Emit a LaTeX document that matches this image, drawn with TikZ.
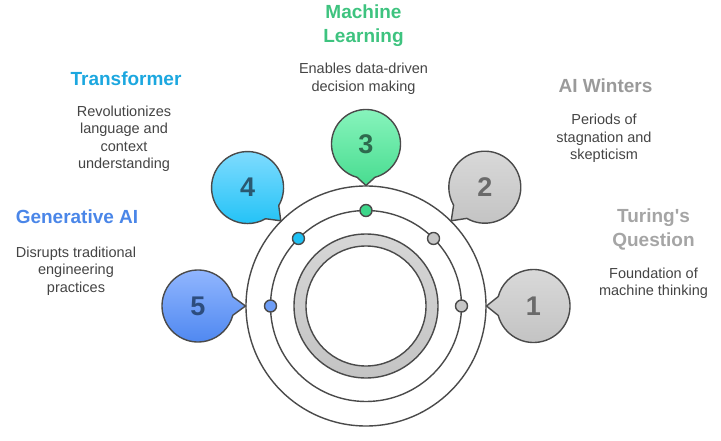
\documentclass[tikz,border=0pt]{standalone}
\usepackage{fontspec}
\setmainfont{Liberation Sans}
\definecolor{ringline}{HTML}{4A4A4A}
\definecolor{ringtop}{HTML}{D6D6D6}
\definecolor{ringbot}{HTML}{C4C4C4}
\definecolor{graytop}{HTML}{DADADA}
\definecolor{graybot}{HTML}{C2C2C2}
\definecolor{graynum}{HTML}{6A6A6A}
\definecolor{greentop}{HTML}{8AF5BE}
\definecolor{greenbot}{HTML}{48DC90}
\definecolor{greennum}{HTML}{2E6A4E}
\definecolor{cyantop}{HTML}{85DDFF}
\definecolor{cyanbot}{HTML}{22C2F6}
\definecolor{cyannum}{HTML}{2A5870}
\definecolor{bluetop}{HTML}{94B8FF}
\definecolor{bluebot}{HTML}{4C86F0}
\definecolor{bluenum}{HTML}{2D4D7E}
\definecolor{mlgreen}{HTML}{3EC37F}
\definecolor{trcyan}{HTML}{1CA7DF}
\definecolor{genblue}{HTML}{4A86E8}
\definecolor{wintergray}{HTML}{9A9A9A}
\definecolor{turinggray}{HTML}{A5A5A5}
\definecolor{dotgray}{HTML}{C6C6C6}
\definecolor{dotgreen}{HTML}{3DD68A}
\definecolor{dotcyan}{HTML}{1EC1F4}
\definecolor{dotblue}{HTML}{6D9DF6}
\definecolor{bodytext}{HTML}{444444}
\tikzset{
  title/.style={font=\fontsize{19}{24}\selectfont\bfseries, align=center, inner sep=0pt},
  body/.style={font=\fontsize{14.5}{17.5}\selectfont, align=center, inner sep=0pt, text=bodytext},
  dot/.style={circle, draw=ringline, line width=1.4pt, minimum size=12pt, inner sep=0pt},
  numtext/.style={font=\fontsize{27}{27}\selectfont\bfseries, inner sep=0pt}
}

\begin{document}
\begin{tikzpicture}[x=1pt, y=1pt, line width=1.4pt]
\useasboundingbox (0,0) rectangle (721,440);
\coordinate (hub) at (366,134);
% rings
\draw[ringline] (hub) circle (120);
\draw[ringline] (hub) circle (95.5);
\path[draw=ringline, top color=ringtop, bottom color=ringbot] (hub) circle (72);
\draw[ringline, fill=white] (hub) circle (60);
% speech balloons
\foreach \i/\a/\d/\r/\tc/\bc/\nc in {1/0/167.5/36.5/graytop/graybot/graynum,
    2/45/168/36/graytop/graybot/graynum,
    3/90/162/34.5/greentop/greenbot/greennum,
    4/135/167.5/36/cyantop/cyanbot/cyannum,
    5/180/168/36/bluetop/bluebot/bluenum}{
  \coordinate (tip\i) at ([shift={(\a:120.5)}]hub);
  \coordinate (c\i) at ([shift={(\a:\d)}]hub);
  \path[draw=ringline, top color=\tc, bottom color=\bc]
    ([shift={(\a+165:\r)}]c\i) -- (tip\i) -- ([shift={(\a+195:\r)}]c\i)
    arc[start angle=\a+195, end angle=\a+525, radius=\r] -- cycle;
  \node[numtext, text=\nc] (num\i) at (c\i) {\i};
}
% dots on the middle ring
\foreach \ang/\col [count=\j] in {0/dotgray, 45/dotgray, 90/dotgreen, 135/dotcyan, 180/dotblue}
  \node[dot, fill=\col] (dot\j) at ([shift={(\ang:95.5)}]hub) {};
% labels
\node[title, text=mlgreen] (mltitle) at (363.5,414) {Machine\\Learning};
\node[body] (mlbody) at (363.5,361) {Enables data-driven\\decision making};
\node[title, text=trcyan] (trtitle) at (126,361) {Transformer};
\node[body] (trbody) at (124,301) {Revolutionizes\\language and\\context\\understanding};
\node[title, text=genblue] (gentitle) at (77,223) {Generative AI};
\node[body] (genbody) at (76,169) {Disrupts traditional\\engineering\\practices};
\node[title, text=wintergray] (wintitle) at (605.5,354) {AI Winters};
\node[body] (winbody) at (604,301.7) {Periods of\\stagnation and\\skepticism};
\node[title, text=turinggray] (turtitle) at (653.5,211) {Turing\textquotesingle s\\Question};
\node[body] (turbody) at (653.5,157) {Foundation of\\machine thinking};
\end{tikzpicture}
\end{document}
